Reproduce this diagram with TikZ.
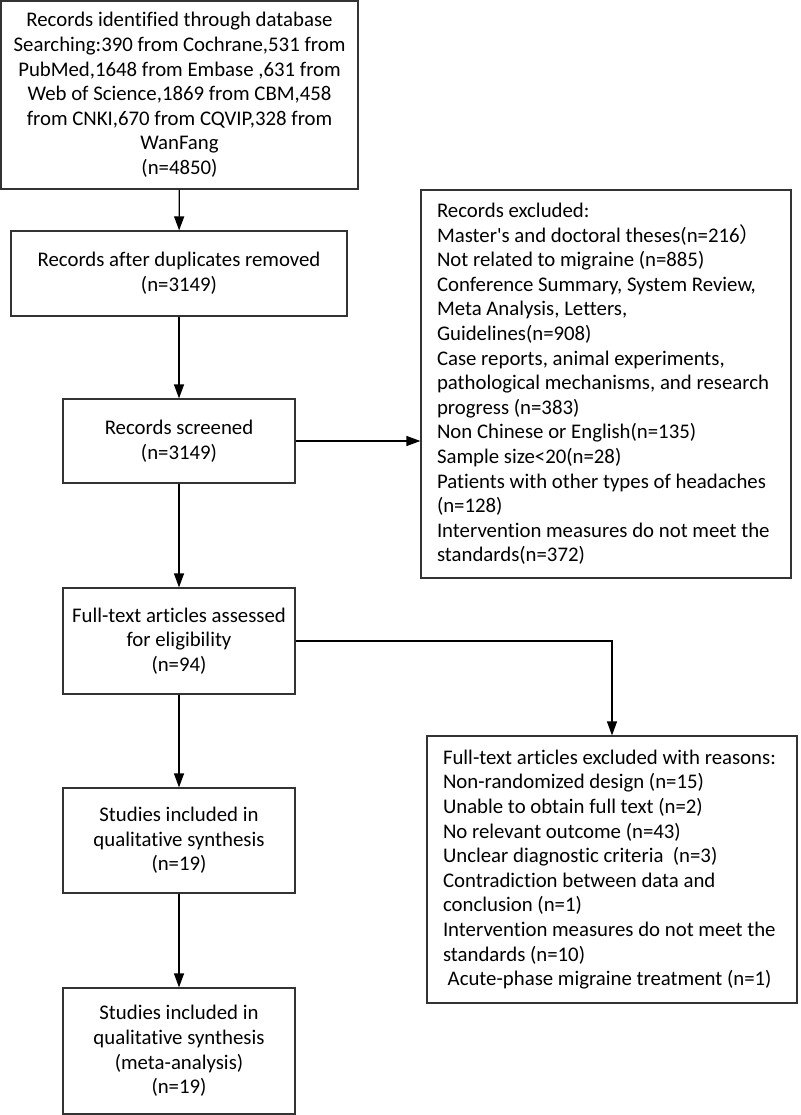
\documentclass[tikz,border=0pt]{standalone}
\usepackage{fontspec}
\setmainfont{Carlito}[Ligatures={TeXOff,NoCommon}]
\newfontfamily\cjkfont{Noto Sans CJK SC}
\usetikzlibrary{arrows.meta}
\newcommand{\ml}[1]{\mbox{#1}}
\begin{document}
\begin{tikzpicture}[x=1pt,y=1pt,
  box/.style={draw=black!80, line width=1.2pt, inner sep=0pt, align=center,
    font=\fontsize{20.8pt}{24.6pt}\selectfont},
  listbox/.style={box, align=flush left, text width=338pt, inner xsep=16pt},
  arr/.style={draw=black, line width=1.2pt, -{Triangle[length=14pt,width=10pt]}}]
\useasboundingbox (0,0) rectangle (800,-1115);
\fill[white] (0,0) rectangle (800,-1115);

\node[box, minimum width=357, minimum height=188] (ident) at (179.5,-95)
  {Records identified through database\\
   Searching:390 from Cochrane,531 from\\
   PubMed,1648 from Embase ,631 from\\
   Web of Science,1869 from CBM,458\\
   from CNKI,670 from CQVIP,328 from\\
   WanFang\\
   (n=4850)};

\node[box, minimum width=336, minimum height=85] (dup) at (179,-273.5)
  {Records after duplicates removed\\(n=3149)};

\node[box, minimum width=232, minimum height=84] (screen) at (179,-441)
  {Records screened\\(n=3149)};

\node[box, minimum width=232, minimum height=106] (full) at (179,-641)
  {Full-text articles assessed\\for eligibility\\(n=94)};

\node[box, minimum width=232, minimum height=105] (qual) at (179,-840.5)
  {Studies included in\\qualitative synthesis\\(n=19)};

\node[box, minimum width=232, minimum height=126] (meta) at (179,-1051)
  {Studies included in\\qualitative synthesis\\(meta-analysis)\\(n=19)};

\node[listbox, minimum height=388] (excl) at (606,-384)
  {\ml{Records excluded:}\\
   \ml{Master\textquotesingle s and doctoral theses(n=216{\cjkfont ）}}\\
   \ml{Not related to migraine (n=885)}\\
   \ml{Conference Summary, System Review,}\\
   \ml{Meta Analysis, Letters,}\\
   \ml{Guidelines(n=908)}\\
   \ml{Case reports, animal experiments,}\\
   \ml{pathological mechanisms, and research}\\
   \ml{progress (n=383)}\\
   \ml{Non Chinese or English(n=135)}\\
   \ml{Sample size<20(n=28)}\\
   \ml{Patients with other types of headaches}\\
   \ml{(n=128)}\\
   \ml{Intervention measures do not meet the}\\
   \ml{standards(n=372)}};

\node[listbox, minimum height=267] (exfull) at (612,-869.5)
  {\ml{Full-text articles excluded with reasons:}\\
   \ml{Non-randomized design (n=15)}\\
   \ml{Unable to obtain full text (n=2)}\\
   \ml{No relevant outcome (n=43)}\\
   \ml{Unclear diagnostic criteria\ \ (n=3)}\\
   \ml{Contradiction between data and}\\
   \ml{conclusion (n=1)}\\
   \ml{Intervention measures do not meet the}\\
   \ml{standards (n=10)}\\
   \ml{\ Acute-phase migraine treatment (n=1)}};

\draw[arr] (ident) -- (dup);
\draw[arr] (dup) -- (screen);
\draw[arr] (screen) -- (full);
\draw[arr] (full) -- (qual);
\draw[arr] (qual) -- (meta);
\draw[arr] (screen.east) -- (screen.east -| excl.west);
\draw[arr] (full.east) -| (exfull.north);
\end{tikzpicture}
\end{document}
